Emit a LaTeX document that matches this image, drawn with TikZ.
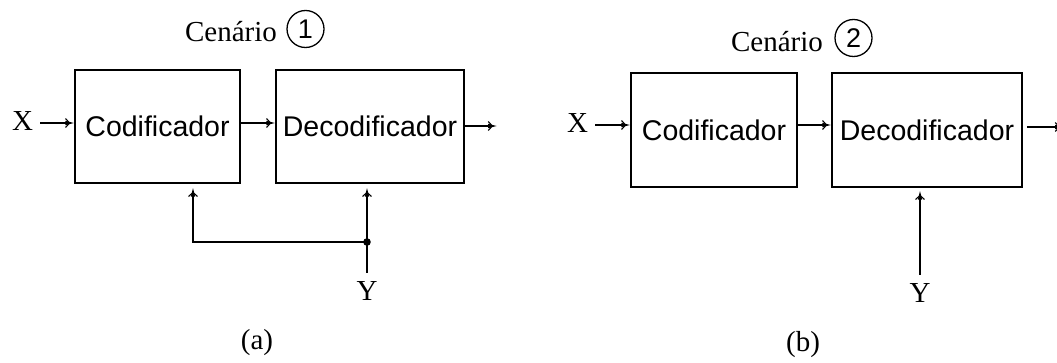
\documentclass[tikz,border=0pt]{standalone}
\usepackage{fontspec}
\setmainfont{Liberation Serif}
\newfontfamily\arialf{Liberation Sans}
\usetikzlibrary{arrows.meta}
\tikzset{
  blk/.style={draw,line width=1.5pt,inner sep=0pt,font=\arialf\fontsize{28.5}{32}\selectfont},
  lbl/.style={inner sep=0pt,font=\fontsize{29}{34}\selectfont},
  num/.style={draw,circle,line width=1.3pt,inner sep=0pt,minimum size=37pt,font=\arialf\fontsize{27}{30}\selectfont},
  wire/.style={line width=1.3pt},
  arr/.style={wire,-{Straight Barb[length=4pt,width=9pt,line width=1.1pt,sep=-5pt]Triangle[length=9pt,width=4pt]}},
}
\begin{document}
\begin{tikzpicture}[x=1pt,y=-1pt]
\useasboundingbox (0,0) rectangle (1057,363);
% ---------- panel (a) ----------
\node[lbl,anchor=base] (cen1) at (231,42) {Cenário};
\node[num] (n1) at (305.5,29) {1};
\node[blk,minimum width=165pt,minimum height=113pt] (c1) at (157.5,126.5) {Codificador};
\node[blk,minimum width=188pt,minimum height=113pt] (d1) at (370,126.5) {Decodificador};
\node[lbl,anchor=base] (x1) at (22.5,131) {X};
\node[lbl,anchor=base] (y1) at (367,300) {Y};
\node[lbl] (a) at (257,343) {(a)};
\coordinate (o1) at (497,126);
\coordinate (j1) at (367,242);
\coordinate (k1) at (193,242);
\draw[arr,shorten <=7pt] ([yshift=-1.5pt]x1.east) -- ([yshift=-1.5pt]x1.east -| c1.west);
\draw[arr] ([yshift=3.5pt]c1.east) -- ([yshift=3.5pt]d1.west);
\draw[arr] ([yshift=0.5pt]d1.east) -- (o1);
\draw[wire,shorten <=8pt] (y1.north) -- (j1);
\draw[arr,shorten >=4pt] (j1) -- (j1 |- d1.south);
\draw[arr,shorten >=4pt] (j1) -- (k1) -- (k1 |- c1.south);
\fill (j1) circle (3.8pt);
% ---------- panel (b) ----------
\node[lbl,anchor=base] (cen2) at (777,52) {Cenário};
\node[num] (n2) at (853.5,38) {2};
\node[blk,minimum width=166pt,minimum height=114pt] (c2) at (714,130) {Codificador};
\node[blk,minimum width=190pt,minimum height=114pt] (d2) at (927,130) {Decodificador};
\node[lbl,anchor=base] (x2) at (577.5,133) {X};
\node[lbl,anchor=base] (y2) at (920,302) {Y};
\node[lbl] (b) at (803,345) {(b)};
\coordinate (o2) at (1064,127);
\draw[arr,shorten <=7pt] ([yshift=-1.5pt]x2.east) -- ([yshift=-1.5pt]x2.east -| c2.west);
\draw[arr] ([yshift=5pt]c2.east) -- ([yshift=5pt]d2.west);
\draw[arr,shorten <=4pt] ([yshift=3pt]d2.east) -- (o2);
\draw[arr,shorten <=8pt,shorten >=3pt] (y2.north) -- (y2.north |- d2.south);
\end{tikzpicture}
\end{document}
